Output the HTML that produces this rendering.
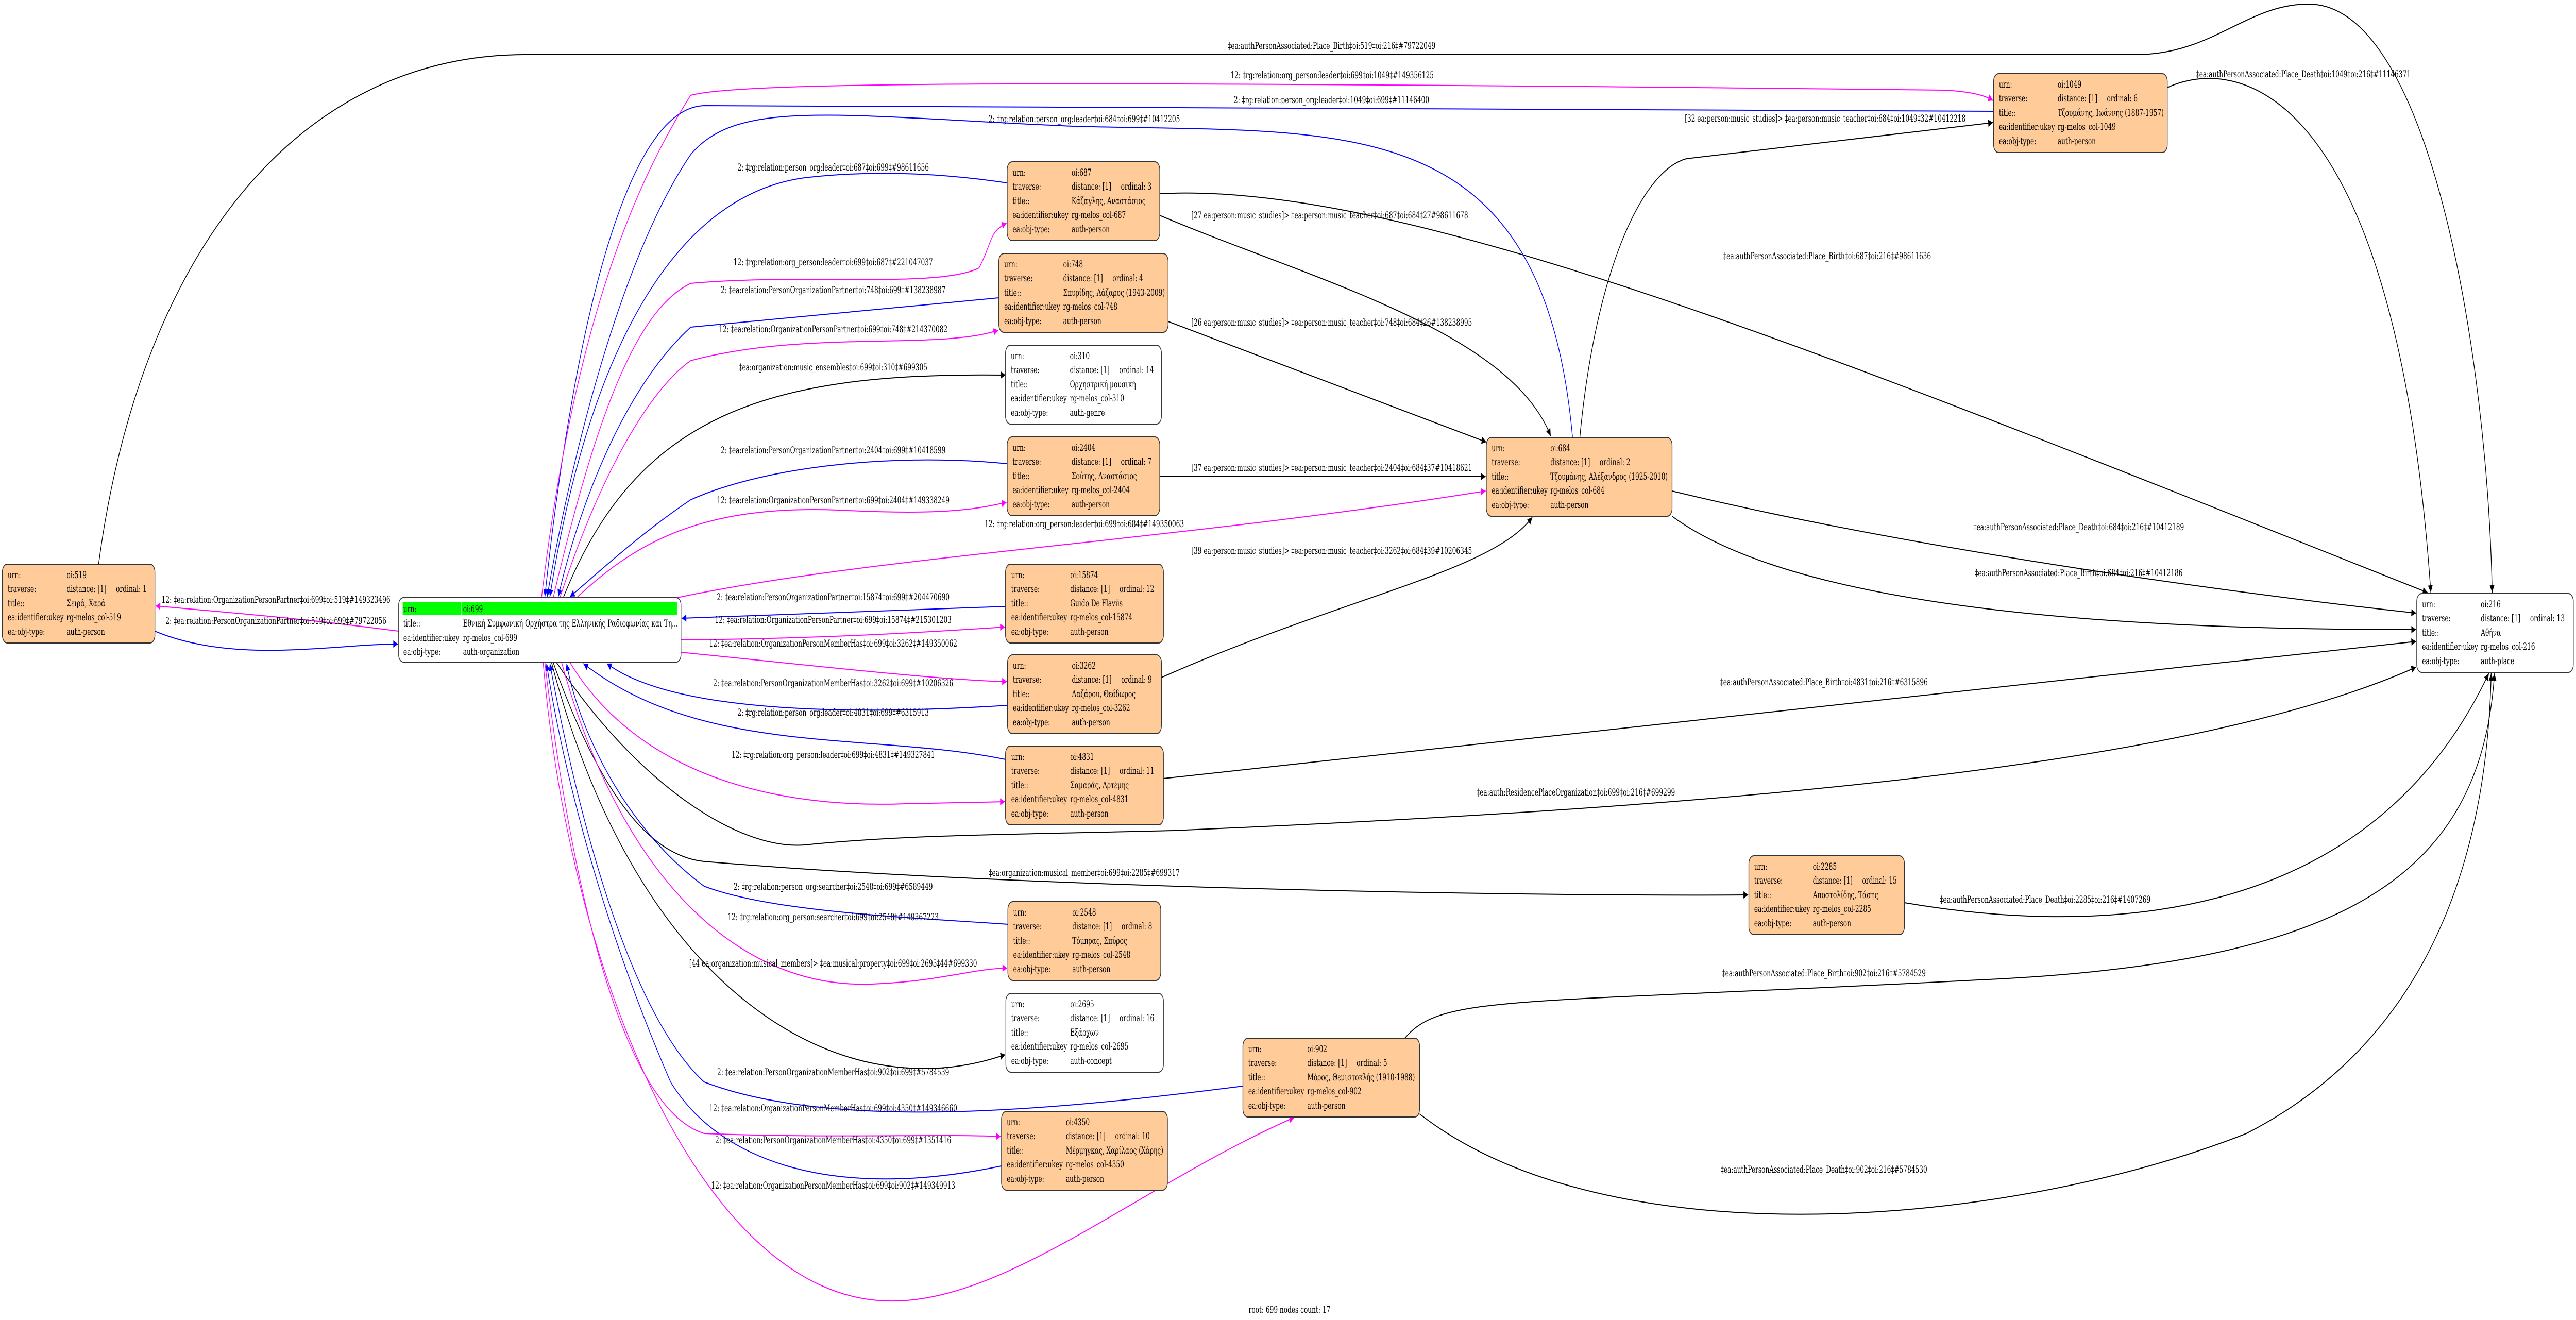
<!DOCTYPE html>
<html><head><meta charset="utf-8"><style>
html,body{margin:0;padding:0;background:#fff;overflow:hidden}
svg{display:block;position:absolute;left:0;top:0;width:100vw;height:100vh}
text{font-family:"DejaVu Serif","Liberation Serif",serif;font-size:18.7px;fill:#000}
.k{fill:none;stroke:#000;stroke-width:2}
.b{fill:none;stroke:#0000ff;stroke-width:2}
.m{fill:none;stroke:#ff00ff;stroke-width:2}
.n{fill:#ffcc99;stroke:#333;stroke-width:2}
.w{fill:#fff;stroke:#333;stroke-width:2}
.c{text-anchor:middle}
</style></head><body>
<svg viewBox="0 0 7683 2562" preserveAspectRatio="none" xmlns="http://www.w3.org/2000/svg">
<defs>
<marker id="ak" viewBox="0 0 10 10" refX="10" refY="5" markerWidth="20" markerHeight="14" markerUnits="userSpaceOnUse" orient="auto"><path d="M0,0L10,5L0,10z" fill="#000"/></marker>
<marker id="ab" viewBox="0 0 10 10" refX="10" refY="5" markerWidth="20" markerHeight="14" markerUnits="userSpaceOnUse" orient="auto"><path d="M0,0L10,5L0,10z" fill="#0000ff"/></marker>
<marker id="am" viewBox="0 0 10 10" refX="10" refY="5" markerWidth="20" markerHeight="14" markerUnits="userSpaceOnUse" orient="auto"><path d="M0,0L10,5L0,10z" fill="#ff00ff"/></marker>
</defs>

<g marker-end="url(#ak)">
<path class="k" d="M294,1095 C420,480 900,106 1568,106 L6370,106 C6600,106 6700,8 6885,8 C7250,8 7420,700 7433,1150"/>
<path class="k" d="M6464,170 C6700,100 7150,200 7250,1150"/>
<path class="k" d="M3459,418 C3900,540 4500,640 4625,846"/>
<path class="k" d="M3459,376 C4200,350 5500,700 7240,1150"/>
<path class="k" d="M3484,624 L4433,858"/>
<path class="k" d="M1680,1160 C1900,800 2300,722 2999,728"/>
<path class="k" d="M4712,848 C4760,520 4900,330 5030,308 L5944,238"/>
<path class="k" d="M3459,925 L4431,925"/>
<path class="k" d="M3464,1315 C4000,1160 4450,1110 4570,1004"/>
<path class="k" d="M4987,953 C5600,1050 6500,1140 7206,1190"/>
<path class="k" d="M4987,1002 C5400,1200 6500,1222 7206,1222"/>
<path class="k" d="M3470,1511 L7206,1245"/>
<path class="k" d="M1660,1286 C1900,1520 2200,1650 2400,1640 C2700,1620 3000,1620 3500,1612 C5000,1570 6500,1500 7206,1295"/>
<path class="k" d="M1650,1286 C1800,1560 1950,1662 2100,1672 C3000,1722 4500,1740 5214,1737"/>
<path class="k" d="M5680,1752 C6200,1810 7050,1820 7423,1307"/>
<path class="k" d="M1645,1286 C1900,1920 2500,2160 2998,2047"/>
<path class="k" d="M4190,2015 C4300,1930 4500,1950 5900,1902 C7000,1870 7400,1700 7440,1307"/>
<path class="k" d="M4234,2162 C4800,2450 6000,2380 6700,2200 C7300,2000 7420,1600 7430,1307"/>
</g>
<g marker-end="url(#ab)">
<path class="b" d="M462,1225 C700,1290 1000,1250 1187,1250"/>
<path class="b" d="M5946,216 L2100,205 C1850,210 1700,700 1625,1158"/>
<path class="b" d="M4690,848 C4600,200 4000,260 3200,245 C2500,225 2200,190 2060,300 C1850,500 1700,900 1632,1158"/>
<path class="b" d="M3004,355 C2800,335 2600,330 2400,345 C2000,380 1750,700 1640,1158"/>
<path class="b" d="M2979,578 L2060,635 C1850,760 1720,1000 1665,1158"/>
<path class="b" d="M3004,900 C2700,880 2300,900 2060,970 C1900,1040 1770,1120 1700,1158"/>
<path class="b" d="M2999,1177 L2033,1200"/>
<path class="b" d="M3005,1369 C2500,1390 2000,1380 1810,1288"/>
<path class="b" d="M2999,1474 C2600,1420 2100,1470 1740,1288"/>
<path class="b" d="M3006,1794 C2700,1780 2300,1770 2100,1720 C1850,1600 1720,1400 1690,1288"/>
<path class="b" d="M3707,2108 C3200,2150 2500,2200 2100,2100 C1850,1950 1700,1500 1640,1288"/>
<path class="b" d="M2987,2263 C2500,2330 2150,2260 2000,2100 C1800,1800 1680,1500 1630,1288"/>
</g>
<g marker-end="url(#am)">
<path class="m" d="M1189,1225 C900,1200 700,1190 464,1176"/>
<path class="m" d="M1615,1160 C1700,700 1850,400 2060,185 C2200,160 3000,155 5800,175 C5880,178 5920,185 5944,195"/>
<path class="m" d="M1650,1160 C1780,800 1900,600 2060,550 C2400,530 2800,560 2920,520 C2960,470 2950,450 3002,433"/>
<path class="m" d="M1670,1160 C1800,900 1950,750 2060,700 C2400,640 2800,680 2977,641"/>
<path class="m" d="M1720,1160 C1900,1050 2100,980 2500,990 C2800,1000 2900,990 3002,975"/>
<path class="m" d="M2020,1160 C2600,1080 3500,1050 4431,953"/>
<path class="m" d="M2031,1242 C2400,1240 2700,1230 2997,1217"/>
<path class="m" d="M2031,1266 C2400,1290 2800,1320 3003,1323"/>
<path class="m" d="M1700,1286 C1900,1500 2300,1570 2700,1560 L2997,1556"/>
<path class="m" d="M1675,1286 C1850,1700 2200,1920 2600,1910 C2800,1905 2900,1880 3004,1879"/>
<path class="m" d="M1625,1286 C1700,1700 1850,2150 2100,2200 C2500,2210 2800,2200 2985,2206"/>
<path class="m" d="M1620,1286 C1700,1900 2100,2520 2650,2525 C3000,2530 3400,2300 3860,2169"/>
</g>

<text x="3662" y="95">‡ea:authPersonAssociated:Place_Birth‡oi:519‡oi:216‡#79722049</text>
<text x="3670" y="152">12: ‡rg:relation:org_person:leader‡oi:699‡oi:1049‡#149356125</text>
<text x="3680" y="200">2: ‡rg:relation:person_org:leader‡oi:1049‡oi:699‡#11146400</text>
<text class="c" x="3234" y="237">2: ‡rg:relation:person_org:leader‡oi:684‡oi:699‡#10412205</text>
<text x="5025" y="236">[32 ea:person:music_studies]&gt; ‡ea:person:music_teacher‡oi:684‡oi:1049‡32#10412218</text>
<text x="6550" y="150">‡ea:authPersonAssociated:Place_Death‡oi:1049‡oi:216‡#11146371</text>
<text class="c" x="2485" y="331">2: ‡rg:relation:person_org:leader‡oi:687‡oi:699‡#98611656</text>
<text x="3553" y="424">[27 ea:person:music_studies]&gt; ‡ea:person:music_teacher‡oi:687‡oi:684‡27#98611678</text>
<text x="5140" y="503">‡ea:authPersonAssociated:Place_Birth‡oi:687‡oi:216‡#98611636</text>
<text class="c" x="2485" y="515">12: ‡rg:relation:org_person:leader‡oi:699‡oi:687‡#221047037</text>
<text class="c" x="2485" y="569">2: ‡ea:relation:PersonOrganizationPartner‡oi:748‡oi:699‡#138238987</text>
<text x="3553" y="632">[26 ea:person:music_studies]&gt; ‡ea:person:music_teacher‡oi:748‡oi:684‡26#138238995</text>
<text class="c" x="2485" y="645">12: ‡ea:relation:OrganizationPersonPartner‡oi:699‡oi:748‡#214370082</text>
<text class="c" x="2485" y="719">‡ea:organization:music_ensembles‡oi:699‡oi:310‡#699305</text>
<text class="c" x="2485" y="880">2: ‡ea:relation:PersonOrganizationPartner‡oi:2404‡oi:699‡#10418599</text>
<text x="3553" y="914">[37 ea:person:music_studies]&gt; ‡ea:person:music_teacher‡oi:2404‡oi:684‡37#10418621</text>
<text class="c" x="2485" y="977">12: ‡ea:relation:OrganizationPersonPartner‡oi:699‡oi:2404‡#149338249</text>
<text class="c" x="3234" y="1023">12: ‡rg:relation:org_person:leader‡oi:699‡oi:684‡#149350063</text>
<text class="c" x="6200" y="1029">‡ea:authPersonAssociated:Place_Death‡oi:684‡oi:216‡#10412189</text>
<text x="3553" y="1075">[39 ea:person:music_studies]&gt; ‡ea:person:music_teacher‡oi:3262‡oi:684‡39#10206345</text>
<text class="c" x="6200" y="1118">‡ea:authPersonAssociated:Place_Birth‡oi:684‡oi:216‡#10412186</text>
<text class="c" x="2485" y="1165">2: ‡ea:relation:PersonOrganizationPartner‡oi:15874‡oi:699‡#204470690</text>
<text class="c" x="823" y="1170">12: ‡ea:relation:OrganizationPersonPartner‡oi:699‡oi:519‡#149323496</text>
<text class="c" x="2485" y="1209">12: ‡ea:relation:OrganizationPersonPartner‡oi:699‡oi:15874‡#215301203</text>
<text class="c" x="823" y="1211">2: ‡ea:relation:PersonOrganizationPartner‡oi:519‡oi:699‡#79722056</text>
<text class="c" x="2485" y="1255">12: ‡ea:relation:OrganizationPersonMemberHas‡oi:699‡oi:3262‡#149350062</text>
<text class="c" x="5440" y="1330">‡ea:authPersonAssociated:Place_Birth‡oi:4831‡oi:216‡#6315896</text>
<text class="c" x="2485" y="1332">2: ‡ea:relation:PersonOrganizationMemberHas‡oi:3262‡oi:699‡#10206326</text>
<text class="c" x="2485" y="1389">2: ‡rg:relation:person_org:leader‡oi:4831‡oi:699‡#6315913</text>
<text class="c" x="2485" y="1471">12: ‡rg:relation:org_person:leader‡oi:699‡oi:4831‡#149327841</text>
<text class="c" x="4700" y="1544">‡ea:auth:ResidencePlaceOrganization‡oi:699‡oi:216‡#699299</text>
<text class="c" x="3234" y="1700">‡ea:organization:musical_member‡oi:699‡oi:2285‡#699317</text>
<text class="c" x="2485" y="1727">2: ‡rg:relation:person_org:searcher‡oi:2548‡oi:699‡#6589449</text>
<text class="c" x="6100" y="1752">‡ea:authPersonAssociated:Place_Death‡oi:2285‡oi:216‡#1407269</text>
<text class="c" x="2485" y="1786">12: ‡rg:relation:org_person:searcher‡oi:699‡oi:2548‡#149367223</text>
<text class="c" x="2485" y="1876">[44 ea:organization:musical_members]&gt; ‡ea:musical:property‡oi:699‡oi:2695‡44#699330</text>
<text class="c" x="5440" y="1895">‡ea:authPersonAssociated:Place_Birth‡oi:902‡oi:216‡#5784529</text>
<text class="c" x="2485" y="2087">2: ‡ea:relation:PersonOrganizationMemberHas‡oi:902‡oi:699‡#5784539</text>
<text class="c" x="2485" y="2157">12: ‡ea:relation:OrganizationPersonMemberHas‡oi:699‡oi:4350‡#149346660</text>
<text class="c" x="2485" y="2219">2: ‡ea:relation:PersonOrganizationMemberHas‡oi:4350‡oi:699‡#1351416</text>
<text class="c" x="5440" y="2276">‡ea:authPersonAssociated:Place_Death‡oi:902‡oi:216‡#5784530</text>
<text class="c" x="2485" y="2307">12: ‡ea:relation:OrganizationPersonMemberHas‡oi:699‡oi:902‡#149349913</text>

<g transform="translate(1189,1160)">
<rect class="w" x="0" y="0" width="842" height="125" rx="14"/>
<rect x="12" y="8" width="818" height="26" fill="#00ff00"/>
<rect x="185" y="8" width="2" height="26" fill="#fff"/>
<text x="14" y="28">urn:</text><text x="192" y="28">oi:699</text>
<text x="14" y="56">title::</text><text x="192" y="56">Εθνική Συμφωνική Ορχήστρα της Ελληνικής Ραδιοφωνίας και Τη...</text>
<text x="14" y="84">ea:identifier:ukey</text><text x="192" y="84">rg-melos_col-699</text>
<text x="14" y="111">ea:obj-type:</text><text x="192" y="111">auth-organization</text>
</g>

<g transform="translate(7,1095)"><rect class="n" width="455" height="153" rx="15"/><text x="16" y="27">urn:</text><text x="192" y="27">oi:519</text><text x="16" y="54">traverse:</text><text x="192" y="54">distance: [1]</text><text x="339" y="54">ordinal: 1</text><text x="16" y="82">title::</text><text x="192" y="82">Σειρά, Χαρά</text><text x="16" y="109">ea:identifier:ukey</text><text x="192" y="109">rg-melos_col-519</text><text x="16" y="137">ea:obj-type:</text><text x="192" y="137">auth-person</text></g>

<g transform="translate(3004,314)"><rect class="n" width="455" height="153" rx="15"/><text x="16" y="27">urn:</text><text x="192" y="27">oi:687</text><text x="16" y="54">traverse:</text><text x="192" y="54">distance: [1]</text><text x="339" y="54">ordinal: 3</text><text x="16" y="82">title::</text><text x="192" y="82">Κάζαγλης, Αναστάσιος</text><text x="16" y="109">ea:identifier:ukey</text><text x="192" y="109">rg-melos_col-687</text><text x="16" y="137">ea:obj-type:</text><text x="192" y="137">auth-person</text></g>

<g transform="translate(2979,492)"><rect class="n" width="505" height="153" rx="15"/><text x="16" y="27">urn:</text><text x="192" y="27">oi:748</text><text x="16" y="54">traverse:</text><text x="192" y="54">distance: [1]</text><text x="339" y="54">ordinal: 4</text><text x="16" y="82">title::</text><text x="192" y="82">Σπυρίδης, Λάζαρος (1943-2009)</text><text x="16" y="109">ea:identifier:ukey</text><text x="192" y="109">rg-melos_col-748</text><text x="16" y="137">ea:obj-type:</text><text x="192" y="137">auth-person</text></g>

<g transform="translate(2999,670)"><rect class="w" width="465" height="153" rx="15"/><text x="16" y="27">urn:</text><text x="192" y="27">oi:310</text><text x="16" y="54">traverse:</text><text x="192" y="54">distance: [1]</text><text x="339" y="54">ordinal: 14</text><text x="16" y="82">title::</text><text x="192" y="82">Ορχηστρική μουσική</text><text x="16" y="109">ea:identifier:ukey</text><text x="192" y="109">rg-melos_col-310</text><text x="16" y="137">ea:obj-type:</text><text x="192" y="137">auth-genre</text></g>

<g transform="translate(3004,848)"><rect class="n" width="455" height="153" rx="15"/><text x="16" y="27">urn:</text><text x="192" y="27">oi:2404</text><text x="16" y="54">traverse:</text><text x="192" y="54">distance: [1]</text><text x="339" y="54">ordinal: 7</text><text x="16" y="82">title::</text><text x="192" y="82">Σούτης, Αναστάσιος</text><text x="16" y="109">ea:identifier:ukey</text><text x="192" y="109">rg-melos_col-2404</text><text x="16" y="137">ea:obj-type:</text><text x="192" y="137">auth-person</text></g>

<g transform="translate(2999,1095)"><rect class="n" width="471" height="153" rx="15"/><text x="17" y="27">urn:</text><text x="193" y="27">oi:15874</text><text x="17" y="54">traverse:</text><text x="193" y="54">distance: [1]</text><text x="340" y="54">ordinal: 12</text><text x="17" y="82">title::</text><text x="193" y="82">Guido De Flaviis</text><text x="17" y="109">ea:identifier:ukey</text><text x="193" y="109">rg-melos_col-15874</text><text x="17" y="137">ea:obj-type:</text><text x="193" y="137">auth-person</text></g>

<g transform="translate(3005,1271)"><rect class="n" width="459" height="153" rx="15"/><text x="16" y="27">urn:</text><text x="192" y="27">oi:3262</text><text x="16" y="54">traverse:</text><text x="192" y="54">distance: [1]</text><text x="339" y="54">ordinal: 9</text><text x="16" y="82">title::</text><text x="192" y="82">Λαζάρου, Θεόδωρος</text><text x="16" y="109">ea:identifier:ukey</text><text x="192" y="109">rg-melos_col-3262</text><text x="16" y="137">ea:obj-type:</text><text x="192" y="137">auth-person</text></g>

<g transform="translate(2999,1448)"><rect class="n" width="471" height="153" rx="15"/><text x="17" y="27">urn:</text><text x="193" y="27">oi:4831</text><text x="17" y="54">traverse:</text><text x="193" y="54">distance: [1]</text><text x="340" y="54">ordinal: 11</text><text x="17" y="82">title::</text><text x="193" y="82">Σαμαράς, Αρτέμης</text><text x="17" y="109">ea:identifier:ukey</text><text x="193" y="109">rg-melos_col-4831</text><text x="17" y="137">ea:obj-type:</text><text x="193" y="137">auth-person</text></g>

<g transform="translate(3006,1750)"><rect class="n" width="456" height="153" rx="15"/><text x="16" y="27">urn:</text><text x="192" y="27">oi:2548</text><text x="16" y="54">traverse:</text><text x="192" y="54">distance: [1]</text><text x="339" y="54">ordinal: 8</text><text x="16" y="82">title::</text><text x="192" y="82">Τόμπρας, Σπύρος</text><text x="16" y="109">ea:identifier:ukey</text><text x="192" y="109">rg-melos_col-2548</text><text x="16" y="137">ea:obj-type:</text><text x="192" y="137">auth-person</text></g>

<g transform="translate(3000,1928)"><rect class="w" width="470" height="153" rx="15"/><text x="16" y="27">urn:</text><text x="192" y="27">oi:2695</text><text x="16" y="54">traverse:</text><text x="192" y="54">distance: [1]</text><text x="339" y="54">ordinal: 16</text><text x="16" y="82">title::</text><text x="192" y="82">Εξάρχων</text><text x="16" y="109">ea:identifier:ukey</text><text x="192" y="109">rg-melos_col-2695</text><text x="16" y="137">ea:obj-type:</text><text x="192" y="137">auth-concept</text></g>

<g transform="translate(2987,2157)"><rect class="n" width="495" height="153" rx="15"/><text x="16" y="27">urn:</text><text x="192" y="27">oi:4350</text><text x="16" y="54">traverse:</text><text x="192" y="54">distance: [1]</text><text x="339" y="54">ordinal: 10</text><text x="16" y="82">title::</text><text x="192" y="82">Μέρμηγκας, Χαρίλαος (Χάρης)</text><text x="16" y="109">ea:identifier:ukey</text><text x="192" y="109">rg-melos_col-4350</text><text x="16" y="137">ea:obj-type:</text><text x="192" y="137">auth-person</text></g>

<g transform="translate(3707,2015)"><rect class="n" width="527" height="153" rx="15"/><text x="16" y="27">urn:</text><text x="192" y="27">oi:902</text><text x="16" y="54">traverse:</text><text x="192" y="54">distance: [1]</text><text x="339" y="54">ordinal: 5</text><text x="16" y="82">title::</text><text x="192" y="82">Μόρος, Θεμιστοκλής (1910-1988)</text><text x="16" y="109">ea:identifier:ukey</text><text x="192" y="109">rg-melos_col-902</text><text x="16" y="137">ea:obj-type:</text><text x="192" y="137">auth-person</text></g>

<g transform="translate(4433,849)"><rect class="n" width="554" height="153" rx="15"/><text x="16" y="27">urn:</text><text x="191" y="27">oi:684</text><text x="16" y="54">traverse:</text><text x="191" y="54">distance: [1]</text><text x="338" y="54">ordinal: 2</text><text x="16" y="82">title::</text><text x="191" y="82">Τζουμάνης, Αλέξανδρος (1925-2010)</text><text x="16" y="109">ea:identifier:ukey</text><text x="191" y="109">rg-melos_col-684</text><text x="16" y="137">ea:obj-type:</text><text x="191" y="137">auth-person</text></g>

<g transform="translate(5946,143)"><rect class="n" width="518" height="153" rx="15"/><text x="16" y="27">urn:</text><text x="191" y="27">oi:1049</text><text x="16" y="54">traverse:</text><text x="191" y="54">distance: [1]</text><text x="338" y="54">ordinal: 6</text><text x="16" y="82">title::</text><text x="191" y="82">Τζουμάνης, Ιωάννης (1887-1957)</text><text x="16" y="109">ea:identifier:ukey</text><text x="191" y="109">rg-melos_col-1049</text><text x="16" y="137">ea:obj-type:</text><text x="191" y="137">auth-person</text></g>

<g transform="translate(5216,1661)"><rect class="n" width="464" height="153" rx="15"/><text x="16" y="27">urn:</text><text x="191" y="27">oi:2285</text><text x="16" y="54">traverse:</text><text x="191" y="54">distance: [1]</text><text x="338" y="54">ordinal: 15</text><text x="16" y="82">title::</text><text x="191" y="82">Αποστολίδης, Τάσης</text><text x="16" y="109">ea:identifier:ukey</text><text x="191" y="109">rg-melos_col-2285</text><text x="16" y="137">ea:obj-type:</text><text x="191" y="137">auth-person</text></g>

<g transform="translate(7208,1152)"><rect class="w" width="467" height="153" rx="15"/><text x="16" y="27">urn:</text><text x="191" y="27">oi:216</text><text x="16" y="54">traverse:</text><text x="191" y="54">distance: [1]</text><text x="338" y="54">ordinal: 13</text><text x="16" y="82">title::</text><text x="191" y="82">Αθήνα</text><text x="16" y="109">ea:identifier:ukey</text><text x="191" y="109">rg-melos_col-216</text><text x="16" y="137">ea:obj-type:</text><text x="191" y="137">auth-place</text></g>

<text class="c" x="3846" y="2548">root: 699 nodes count: 17</text>
</svg>
</body></html>
